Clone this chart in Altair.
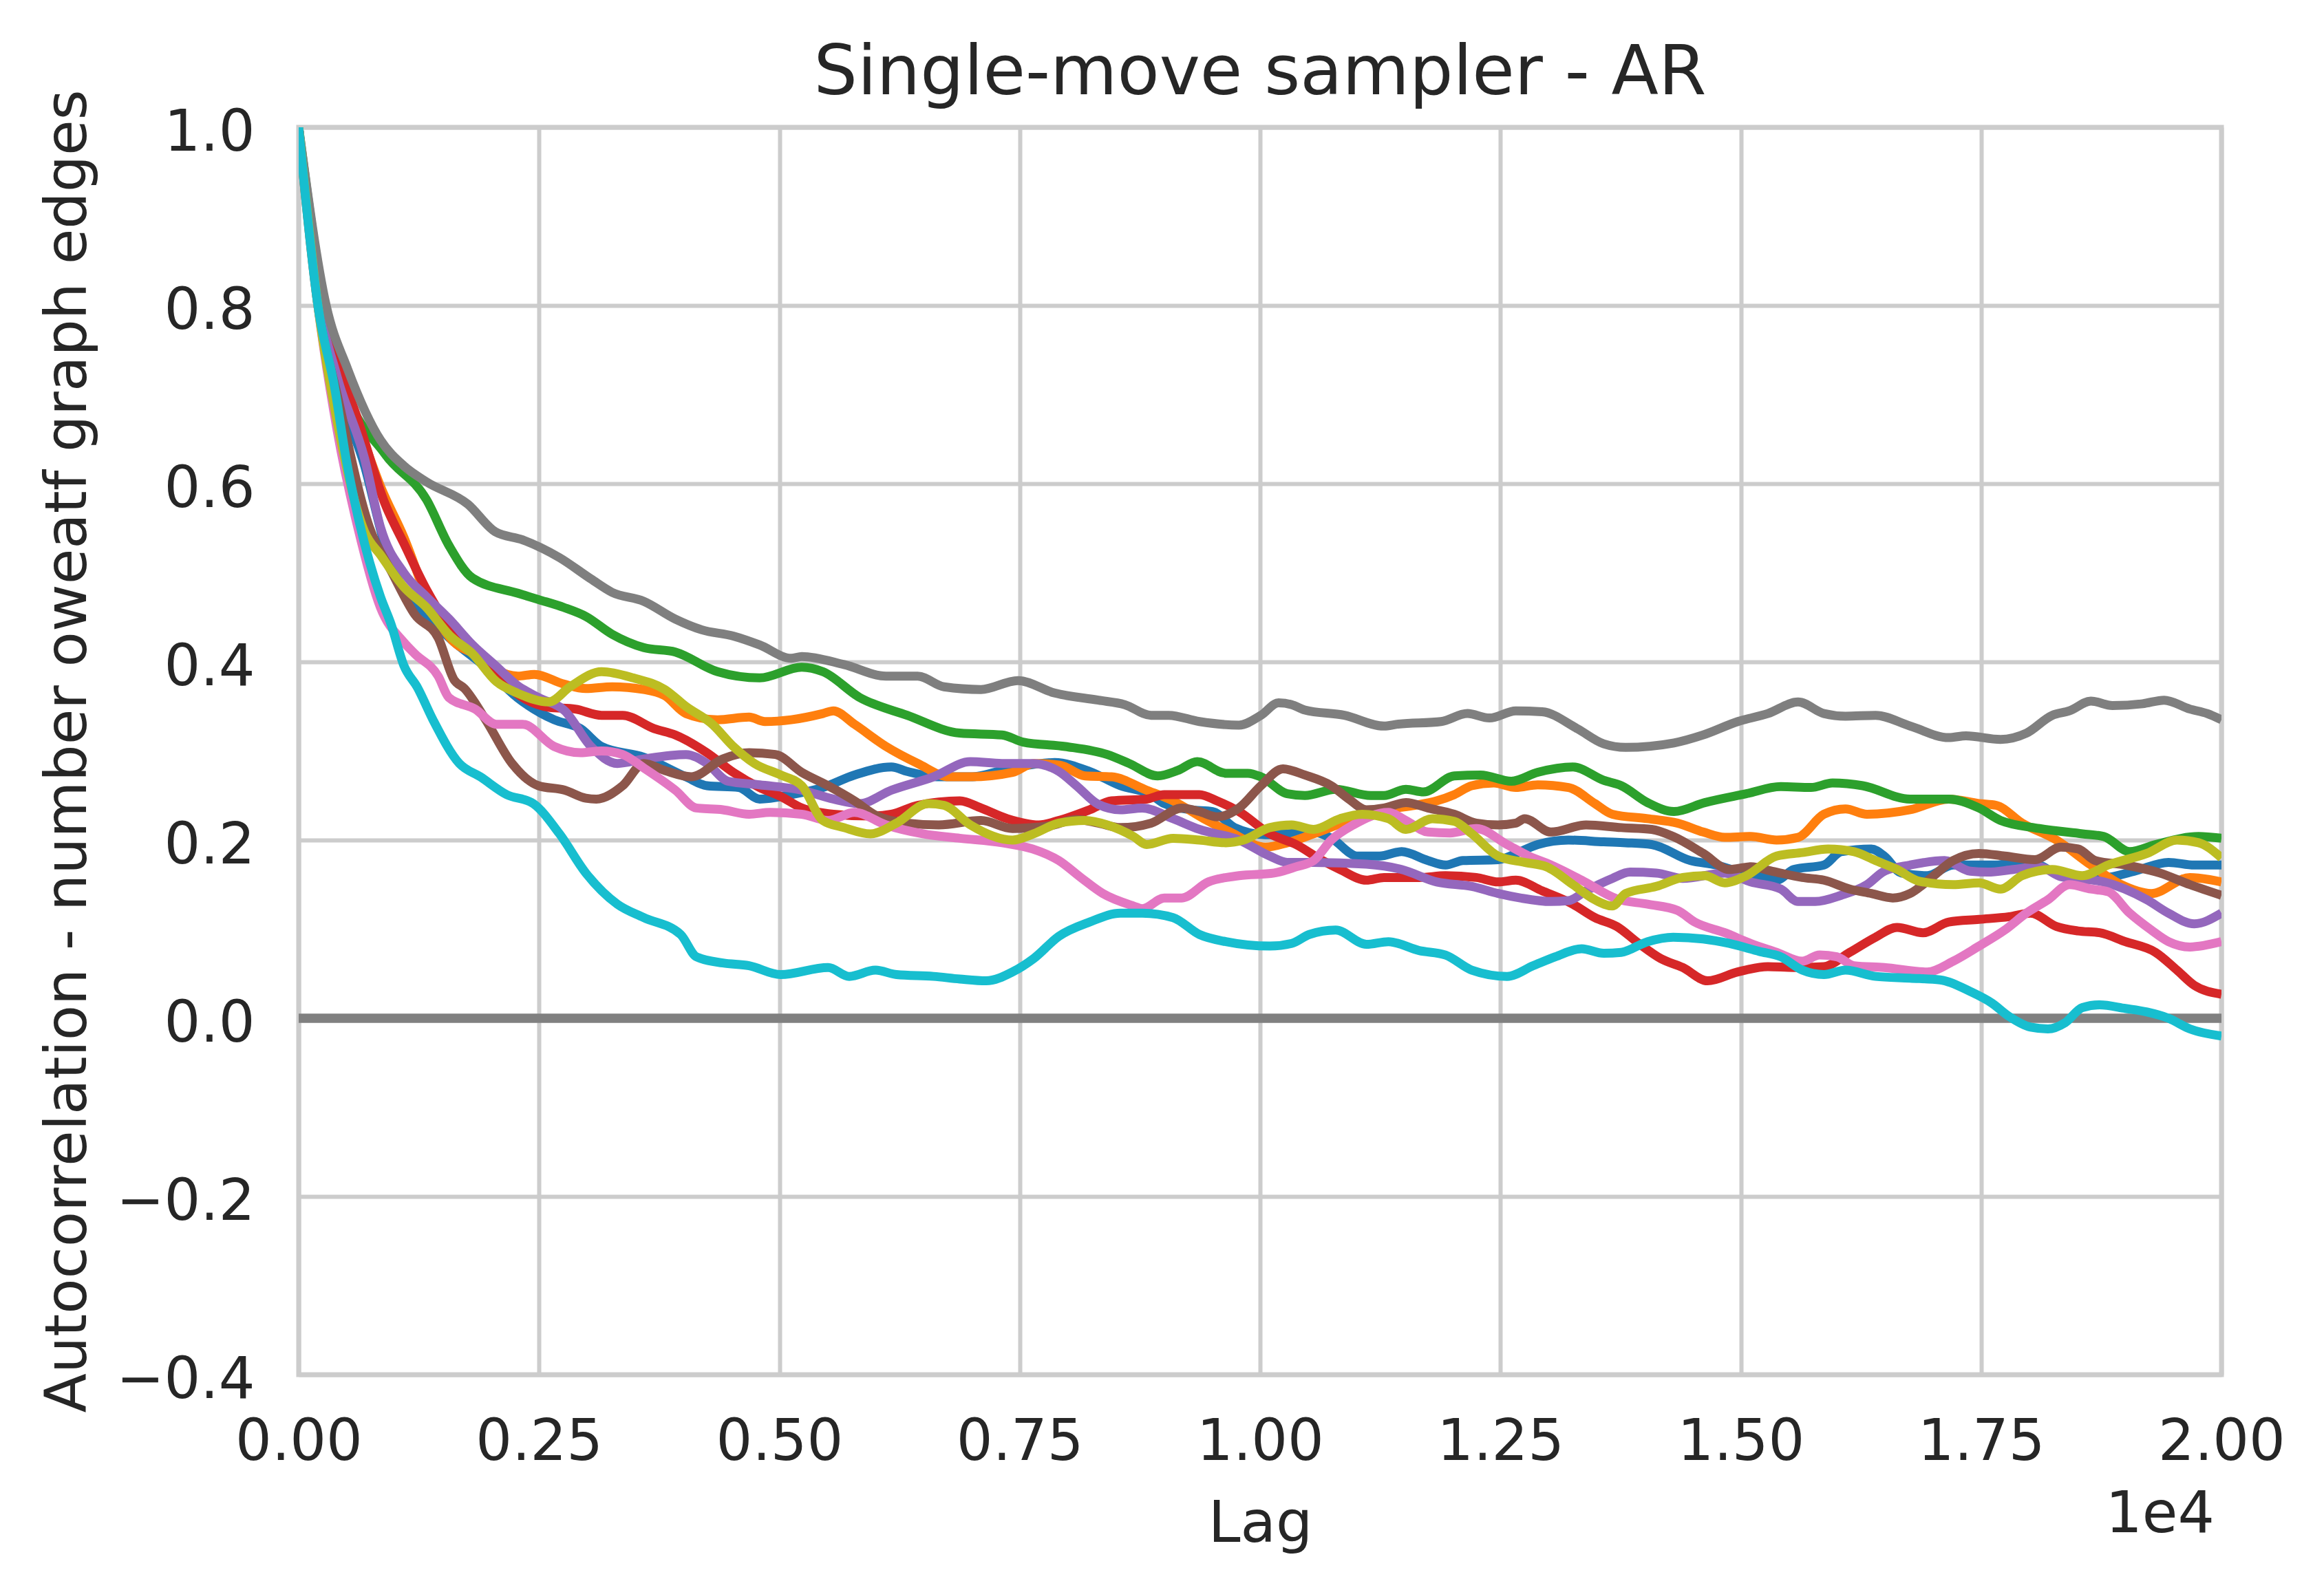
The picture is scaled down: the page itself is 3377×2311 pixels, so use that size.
import altair as alt
import pandas as pd

# ---- data (lag, autocorrelation) ----
BLUE_LAG = [0, 200, 400, 686, 900, 1094, 1330, 1566, 1923, 2274, 2658, 2932, 3151, 3589, 4028, 4247, 4576, 4795, 5124, 5453, 5781, 6165, 6329, 6658, 6987, 7425, 7864, 8227, 8547, 8866, 9003, 9278, 9506, 9735, 10055, 10283, 10557, 10740, 11015, 11243, 11472, 11746, 11929, 12111, 12477, 12706, 12888, 13208, 13574, 13802, 14073, 14476, 14745, 14969, 15237, 15372, 15551, 15865, 16044, 16358, 16492, 16671, 16940, 17209, 17657, 17881, 18105, 18329, 18777, 19090, 19449, 19717, 20000]
BLUE_ACF = [1.0, 0.81, 0.71, 0.62, 0.53, 0.48, 0.453, 0.427, 0.396, 0.36, 0.335, 0.325, 0.305, 0.293, 0.271, 0.261, 0.259, 0.246, 0.251, 0.259, 0.273, 0.282, 0.277, 0.271, 0.271, 0.281, 0.287, 0.277, 0.261, 0.251, 0.241, 0.234, 0.232, 0.214, 0.206, 0.207, 0.209, 0.202, 0.182, 0.182, 0.187, 0.177, 0.172, 0.177, 0.178, 0.187, 0.195, 0.2, 0.198, 0.197, 0.195, 0.177, 0.172, 0.165, 0.158, 0.155, 0.167, 0.172, 0.187, 0.19, 0.182, 0.163, 0.16, 0.172, 0.172, 0.175, 0.172, 0.16, 0.158, 0.165, 0.175, 0.172, 0.172]

ORANGE_LAG = [0, 200, 400, 593, 851, 1094, 1380, 1566, 1890, 2045, 2281, 2452, 2760, 2987, 3260, 3589, 3809, 4028, 4357, 4685, 4850, 5124, 5453, 5562, 5781, 6110, 6439, 6768, 6987, 7425, 7645, 7919, 8180, 8455, 8820, 9095, 9415, 9690, 10055, 10283, 10557, 10923, 11289, 11609, 11837, 12020, 12203, 12431, 12660, 12888, 13208, 13482, 13665, 14031, 14342, 14610, 14834, 15103, 15372, 15596, 15865, 16089, 16313, 16761, 17164, 17478, 17657, 17926, 18284, 18642, 18956, 19270, 19672, 20000]
ORANGE_ACF = [1.0, 0.82, 0.74, 0.675, 0.597, 0.54, 0.461, 0.428, 0.405, 0.392, 0.384, 0.386, 0.375, 0.37, 0.372, 0.369, 0.362, 0.342, 0.335, 0.338, 0.333, 0.335, 0.342, 0.345, 0.33, 0.305, 0.286, 0.271, 0.271, 0.276, 0.286, 0.284, 0.272, 0.271, 0.256, 0.244, 0.224, 0.209, 0.192, 0.197, 0.207, 0.222, 0.234, 0.239, 0.244, 0.251, 0.261, 0.264, 0.259, 0.262, 0.259, 0.241, 0.229, 0.224, 0.219, 0.209, 0.203, 0.204, 0.2, 0.203, 0.229, 0.235, 0.229, 0.234, 0.246, 0.241, 0.239, 0.219, 0.2, 0.172, 0.15, 0.14, 0.158, 0.153]

GREEN_LAG = [0, 286, 450, 900, 1330, 1566, 1809, 2281, 2493, 2760, 2987, 3260, 3589, 3918, 4357, 4795, 5233, 5453, 5836, 6329, 6877, 7316, 7535, 7973, 8410, 8638, 8935, 9141, 9347, 9644, 9872, 10009, 10283, 10466, 10786, 11152, 11289, 11517, 11700, 12020, 12294, 12614, 12888, 13254, 13574, 13757, 14031, 14305, 14625, 15058, 15416, 15730, 15954, 16268, 16761, 17164, 17478, 17702, 18105, 18553, 18777, 19045, 19314, 19762, 20000]
GREEN_ACF = [1.0, 0.79, 0.718, 0.633, 0.582, 0.53, 0.494, 0.477, 0.47, 0.461, 0.451, 0.431, 0.416, 0.411, 0.389, 0.382, 0.394, 0.389, 0.36, 0.34, 0.32, 0.318, 0.31, 0.305, 0.296, 0.286, 0.272, 0.278, 0.288, 0.275, 0.275, 0.271, 0.252, 0.25, 0.257, 0.25, 0.25, 0.257, 0.254, 0.272, 0.273, 0.266, 0.276, 0.282, 0.267, 0.261, 0.242, 0.232, 0.242, 0.252, 0.26, 0.259, 0.264, 0.261, 0.246, 0.246, 0.236, 0.222, 0.213, 0.207, 0.204, 0.187, 0.195, 0.204, 0.202]

RED_LAG = [0, 200, 400, 615, 900, 1094, 1330, 1566, 1809, 2055, 2329, 2603, 2877, 3151, 3370, 3699, 3918, 4247, 4521, 4795, 5014, 5233, 5562, 5946, 6165, 6439, 6877, 7097, 7370, 7700, 7907, 8227, 8455, 8820, 9003, 9369, 9552, 9781, 10101, 10375, 10649, 10832, 11106, 11289, 11655, 11929, 12249, 12477, 12660, 12934, 13254, 13482, 13711, 13939, 14168, 14396, 14655, 14969, 15282, 15551, 15865, 16134, 16402, 16626, 16895, 17164, 17478, 17792, 18015, 18284, 18508, 18732, 19000, 19314, 19538, 19717, 20000]
RED_ACF = [1.0, 0.82, 0.74, 0.672, 0.577, 0.533, 0.481, 0.44, 0.415, 0.385, 0.36, 0.349, 0.347, 0.34, 0.34, 0.325, 0.318, 0.298, 0.276, 0.259, 0.249, 0.236, 0.229, 0.227, 0.229, 0.239, 0.244, 0.236, 0.224, 0.217, 0.222, 0.234, 0.244, 0.246, 0.251, 0.251, 0.244, 0.232, 0.207, 0.195, 0.177, 0.167, 0.155, 0.158, 0.158, 0.16, 0.158, 0.153, 0.155, 0.143, 0.128, 0.113, 0.103, 0.084, 0.067, 0.057, 0.042, 0.052, 0.058, 0.057, 0.058, 0.074, 0.091, 0.102, 0.096, 0.108, 0.111, 0.114, 0.118, 0.103, 0.098, 0.096, 0.086, 0.074, 0.054, 0.037, 0.027]

PURPLE_LAG = [0, 200, 400, 686, 851, 1094, 1330, 1566, 1809, 2045, 2281, 2493, 2768, 3041, 3315, 3589, 4028, 4247, 4466, 4795, 5233, 5562, 5836, 6165, 6603, 6987, 7316, 7633, 7907, 8090, 8318, 8547, 8775, 9095, 9369, 9781, 10101, 10283, 10557, 11106, 11472, 11837, 12203, 12477, 12706, 13025, 13208, 13391, 13665, 13848, 14122, 14396, 14834, 15103, 15416, 15596, 15775, 16044, 16313, 16492, 16761, 17119, 17388, 17567, 17836, 18105, 18329, 18777, 19225, 19449, 19717, 20000]
PURPLE_ACF = [1.0, 0.81, 0.72, 0.628, 0.551, 0.5, 0.473, 0.448, 0.419, 0.396, 0.373, 0.36, 0.345, 0.305, 0.286, 0.291, 0.296, 0.286, 0.266, 0.262, 0.256, 0.246, 0.241, 0.256, 0.271, 0.288, 0.286, 0.286, 0.277, 0.261, 0.24, 0.234, 0.236, 0.224, 0.212, 0.2, 0.182, 0.175, 0.175, 0.173, 0.167, 0.153, 0.148, 0.14, 0.135, 0.131, 0.132, 0.143, 0.157, 0.164, 0.163, 0.157, 0.163, 0.153, 0.145, 0.131, 0.131, 0.138, 0.15, 0.165, 0.172, 0.177, 0.165, 0.164, 0.167, 0.17, 0.159, 0.153, 0.133, 0.118, 0.106, 0.118]

BROWN_LAG = [0, 200, 400, 736, 972, 1209, 1451, 1616, 1726, 1945, 2219, 2493, 2768, 2987, 3096, 3370, 3589, 3809, 4083, 4412, 4685, 4959, 5233, 5507, 5781, 6000, 6329, 6658, 7097, 7425, 7809, 8090, 8318, 8547, 8866, 9186, 9369, 9552, 9781, 10009, 10238, 10466, 10740, 10923, 11106, 11289, 11517, 11746, 12020, 12249, 12477, 12660, 12751, 13025, 13391, 13757, 14073, 14297, 14610, 14879, 15103, 15327, 15640, 15865, 16134, 16358, 16581, 16761, 16985, 17209, 17478, 17746, 18060, 18329, 18508, 18687, 19000, 19359, 19672, 20000]
BROWN_ACF = [1.0, 0.8, 0.7, 0.551, 0.5, 0.453, 0.427, 0.38, 0.37, 0.335, 0.286, 0.261, 0.256, 0.247, 0.246, 0.261, 0.286, 0.278, 0.271, 0.291, 0.298, 0.296, 0.276, 0.261, 0.244, 0.228, 0.219, 0.217, 0.222, 0.213, 0.216, 0.223, 0.219, 0.214, 0.219, 0.236, 0.232, 0.226, 0.236, 0.261, 0.28, 0.273, 0.261, 0.246, 0.234, 0.236, 0.242, 0.236, 0.229, 0.219, 0.217, 0.219, 0.224, 0.209, 0.217, 0.214, 0.212, 0.204, 0.185, 0.167, 0.17, 0.165, 0.158, 0.155, 0.145, 0.14, 0.135, 0.14, 0.158, 0.177, 0.185, 0.182, 0.178, 0.192, 0.19, 0.177, 0.172, 0.163, 0.15, 0.138]

PINK_LAG = [0, 200, 400, 615, 851, 1094, 1209, 1451, 1562, 1836, 2055, 2329, 2658, 2932, 3151, 3370, 3589, 3918, 4137, 4412, 4685, 4904, 5233, 5507, 5781, 6110, 6493, 6877, 7316, 7633, 7907, 8135, 8364, 8684, 8775, 9003, 9186, 9461, 9781, 10146, 10375, 10557, 10740, 10969, 11335, 11517, 11746, 11974, 12249, 12569, 12797, 13025, 13345, 13711, 14031, 14342, 14521, 14834, 15103, 15372, 15640, 15820, 15999, 16178, 16492, 16940, 17209, 17478, 17746, 17971, 18195, 18418, 18642, 18821, 19045, 19270, 19449, 19672, 20000]
PINK_ACF = [1.0, 0.8, 0.66, 0.551, 0.461, 0.422, 0.409, 0.384, 0.36, 0.347, 0.33, 0.33, 0.305, 0.298, 0.3, 0.296, 0.281, 0.256, 0.236, 0.234, 0.229, 0.231, 0.229, 0.222, 0.231, 0.217, 0.207, 0.202, 0.197, 0.19, 0.177, 0.158, 0.14, 0.126, 0.123, 0.135, 0.135, 0.153, 0.16, 0.163, 0.17, 0.177, 0.2, 0.217, 0.231, 0.222, 0.209, 0.208, 0.213, 0.195, 0.182, 0.172, 0.155, 0.134, 0.128, 0.121, 0.108, 0.096, 0.084, 0.074, 0.064, 0.071, 0.069, 0.059, 0.057, 0.052, 0.064, 0.081, 0.099, 0.118, 0.133, 0.15, 0.145, 0.142, 0.118, 0.099, 0.086, 0.08, 0.086]

GRAY_LAG = [0, 286, 508, 851, 1094, 1330, 1759, 2045, 2329, 2713, 3041, 3260, 3589, 3918, 4192, 4521, 4795, 5124, 5233, 5672, 6110, 6439, 6713, 7097, 7480, 7864, 8318, 8592, 8866, 9049, 9369, 9781, 10009, 10192, 10329, 10466, 10877, 11289, 11426, 11883, 12157, 12386, 12660, 12934, 13300, 13574, 13802, 14305, 14610, 14969, 15282, 15596, 15865, 16089, 16402, 16761, 17164, 17343, 17702, 17971, 18240, 18418, 18642, 18866, 19180, 19404, 19672, 19852, 20000]
GRAY_ACF = [1.0, 0.8, 0.729, 0.649, 0.62, 0.602, 0.577, 0.546, 0.537, 0.517, 0.493, 0.478, 0.468, 0.448, 0.436, 0.429, 0.419, 0.404, 0.406, 0.397, 0.384, 0.384, 0.372, 0.369, 0.379, 0.365, 0.357, 0.352, 0.34, 0.34, 0.333, 0.329, 0.34, 0.354, 0.352, 0.346, 0.34, 0.328, 0.33, 0.333, 0.342, 0.337, 0.345, 0.344, 0.325, 0.308, 0.304, 0.309, 0.318, 0.333, 0.342, 0.355, 0.342, 0.339, 0.34, 0.328, 0.315, 0.317, 0.313, 0.32, 0.34, 0.345, 0.356, 0.351, 0.353, 0.357, 0.347, 0.342, 0.335]

OLIVE_LAG = [0, 200, 400, 686, 851, 1094, 1330, 1566, 1809, 2055, 2274, 2603, 2822, 3151, 3480, 3809, 4028, 4302, 4521, 4740, 5014, 5233, 5453, 5672, 5946, 6219, 6548, 6713, 6987, 7425, 7645, 7907, 8180, 8410, 8684, 8820, 9095, 9369, 9644, 9827, 10101, 10329, 10557, 10832, 11060, 11335, 11517, 11791, 12020, 12203, 12477, 12751, 12980, 13254, 13482, 13665, 13802, 14122, 14396, 14625, 14834, 15058, 15372, 15640, 15909, 16178, 16402, 16626, 16850, 17209, 17478, 17702, 17926, 18240, 18553, 18821, 19225, 19538, 19762, 20000]
OLIVE_ACF = [1.0, 0.8, 0.67, 0.546, 0.52, 0.484, 0.461, 0.43, 0.409, 0.378, 0.365, 0.355, 0.372, 0.389, 0.382, 0.369, 0.35, 0.33, 0.305, 0.286, 0.273, 0.261, 0.222, 0.214, 0.207, 0.219, 0.241, 0.239, 0.217, 0.2, 0.207, 0.219, 0.222, 0.217, 0.204, 0.195, 0.202, 0.2, 0.197, 0.2, 0.214, 0.217, 0.212, 0.224, 0.229, 0.224, 0.212, 0.224, 0.221, 0.207, 0.182, 0.175, 0.17, 0.15, 0.133, 0.126, 0.14, 0.148, 0.158, 0.16, 0.152, 0.16, 0.182, 0.186, 0.19, 0.187, 0.177, 0.167, 0.154, 0.15, 0.152, 0.145, 0.16, 0.167, 0.16, 0.172, 0.185, 0.2, 0.197, 0.18]

CYAN_LAG = [0, 200, 379, 493, 615, 851, 959, 1094, 1237, 1397, 1671, 1890, 2164, 2439, 2713, 2987, 3315, 3589, 3973, 4137, 4412, 4685, 5014, 5507, 5727, 6000, 6219, 6603, 6877, 7151, 7425, 7645, 7907, 8227, 8547, 8775, 9095, 9369, 9644, 10101, 10329, 10512, 10786, 11106, 11335, 11655, 11929, 12203, 12569, 12842, 13071, 13345, 13574, 13757, 14031, 14297, 14610, 14879, 15193, 15416, 15640, 15865, 16089, 16402, 16761, 17074, 17388, 17612, 17791, 18015, 18195, 18374, 18553, 18732, 19000, 19225, 19449, 19672, 20000]
CYAN_ACF = [1.0, 0.8, 0.705, 0.628, 0.564, 0.473, 0.443, 0.396, 0.371, 0.335, 0.286, 0.271, 0.251, 0.241, 0.207, 0.163, 0.128, 0.113, 0.094, 0.069, 0.062, 0.059, 0.049, 0.057, 0.047, 0.054, 0.049, 0.047, 0.044, 0.042, 0.052, 0.067, 0.092, 0.108, 0.118, 0.118, 0.113, 0.094, 0.086, 0.081, 0.084, 0.094, 0.099, 0.083, 0.086, 0.076, 0.071, 0.054, 0.047, 0.059, 0.069, 0.078, 0.073, 0.074, 0.086, 0.091, 0.089, 0.084, 0.075, 0.069, 0.054, 0.049, 0.054, 0.047, 0.045, 0.043, 0.03, 0.017, 0.002, -0.01, -0.012, -0.005, 0.012, 0.015, 0.011, 0.007, 0.0, -0.012, -0.02]

SERIES_NAMES = ["s01", "s02", "s03", "s04", "s05", "s06", "s07", "s08", "s09", "s10"]
SERIES_COLORS = ["#1f77b4", "#ff7f0e", "#2ca02c", "#d62728", "#9467bd",
                 "#8c564b", "#e377c2", "#7f7f7f", "#bcbd22", "#17becf"]
X_TICKS = [0, 2500, 5000, 7500, 10000, 12500, 15000, 17500, 20000]
Y_TICKS = [-0.4, -0.2, 0.0, 0.2, 0.4, 0.6, 0.8, 1.0]

TITLE = "Single-move sampler - AR"
X_TITLE = "Lag"
Y_TITLE = "Autocorrelation - number oweatf graph edges"
OFFSET_TEXT = "1e4"

series = [
    (BLUE_LAG, BLUE_ACF), (ORANGE_LAG, ORANGE_ACF), (GREEN_LAG, GREEN_ACF),
    (RED_LAG, RED_ACF), (PURPLE_LAG, PURPLE_ACF), (BROWN_LAG, BROWN_ACF),
    (PINK_LAG, PINK_ACF), (GRAY_LAG, GRAY_ACF), (OLIVE_LAG, OLIVE_ACF),
    (CYAN_LAG, CYAN_ACF),
]
rows = []
for name, (lags, vals) in zip(SERIES_NAMES, series):
    for i, (l, v) in enumerate(zip(lags, vals)):
        rows.append({"series": name, "lag": l, "acf": v, "order": i})
df = pd.DataFrame(rows)

FONT = "DejaVu Sans"
TEXT_COLOR = "#262626"
W, H = 2794, 1813

x_enc = alt.X(
    "lag:Q",
    scale=alt.Scale(domain=[0, 20000], nice=False, zero=False),
    axis=alt.Axis(
        values=X_TICKS, labelExpr="format(datum.value / 10000, '.2f')",
        labelFlush=False, labelOverlap=False, labelLimit=0, labelBound=False,
        title=X_TITLE, labelPadding=57, titleX=W / 2, titleY=242,
        titleAlign="center", titleBaseline="alphabetic",
    ),
)
y_enc = alt.Y(
    "acf:Q",
    scale=alt.Scale(domain=[-0.4, 1.0], nice=False, zero=False),
    axis=alt.Axis(
        values=Y_TICKS,
        labelExpr="replace(format(datum.value, '.1f'), '-', '\u2212')",
        labelFlush=False, labelOverlap=False, labelLimit=0, labelBound=False,
        title=Y_TITLE, labelPadding=64, labelBaseline="alphabetic", labelOffset=33,
        titleX=-310, titleY=H / 2, titleAngle=270, titleAlign="center",
        titleBaseline="alphabetic",
    ),
)

zero_df = pd.DataFrame({"lag": [0, 20000], "acf": [0.0, 0.0]})
zero_line = alt.Chart(zero_df).mark_rule(color="#808080", strokeWidth=13).encode(
    y=y_enc
)

lines = alt.Chart(df).mark_line(strokeWidth=13, interpolate="monotone", clip=True).encode(
    x=x_enc,
    y=y_enc,
    color=alt.Color("series:N", scale=alt.Scale(domain=SERIES_NAMES, range=SERIES_COLORS), legend=None),
    order=alt.Order("order:Q"),
)

offset_text = alt.Chart(pd.DataFrame({"t": [OFFSET_TEXT]})).mark_text(
    align="right", baseline="alphabetic", fontSize=84, font=FONT, color=TEXT_COLOR
).encode(
    x=alt.value(W - 10), y=alt.value(2042), text="t:N"
)

title_text = alt.Chart(pd.DataFrame({"t": [TITLE]})).mark_text(
    align="center", baseline="alphabetic", fontSize=100, font=FONT, color=TEXT_COLOR
).encode(
    x=alt.value(W / 2), y=alt.value(-48), text="t:N"
)

chart = alt.layer(zero_line, lines, offset_text, title_text).properties(
    width=W, height=H,
    background="white",
    autosize=alt.AutoSizeParams(type="none"),
    padding={"left": 426, "top": 177, "right": 141, "bottom": 305},
).configure_view(
    stroke="#cccccc", strokeWidth=7
).configure_axis(
    grid=True, gridColor="#cccccc", gridWidth=6, domain=False, ticks=False, tickSize=0,
    labelFont=FONT, labelFontSize=83, labelColor=TEXT_COLOR,
    titleFont=FONT, titleFontSize=84, titleColor=TEXT_COLOR, titleFontWeight="normal",
)

chart.save("out.html", embed_options={"renderer": "svg", "actions": False})
